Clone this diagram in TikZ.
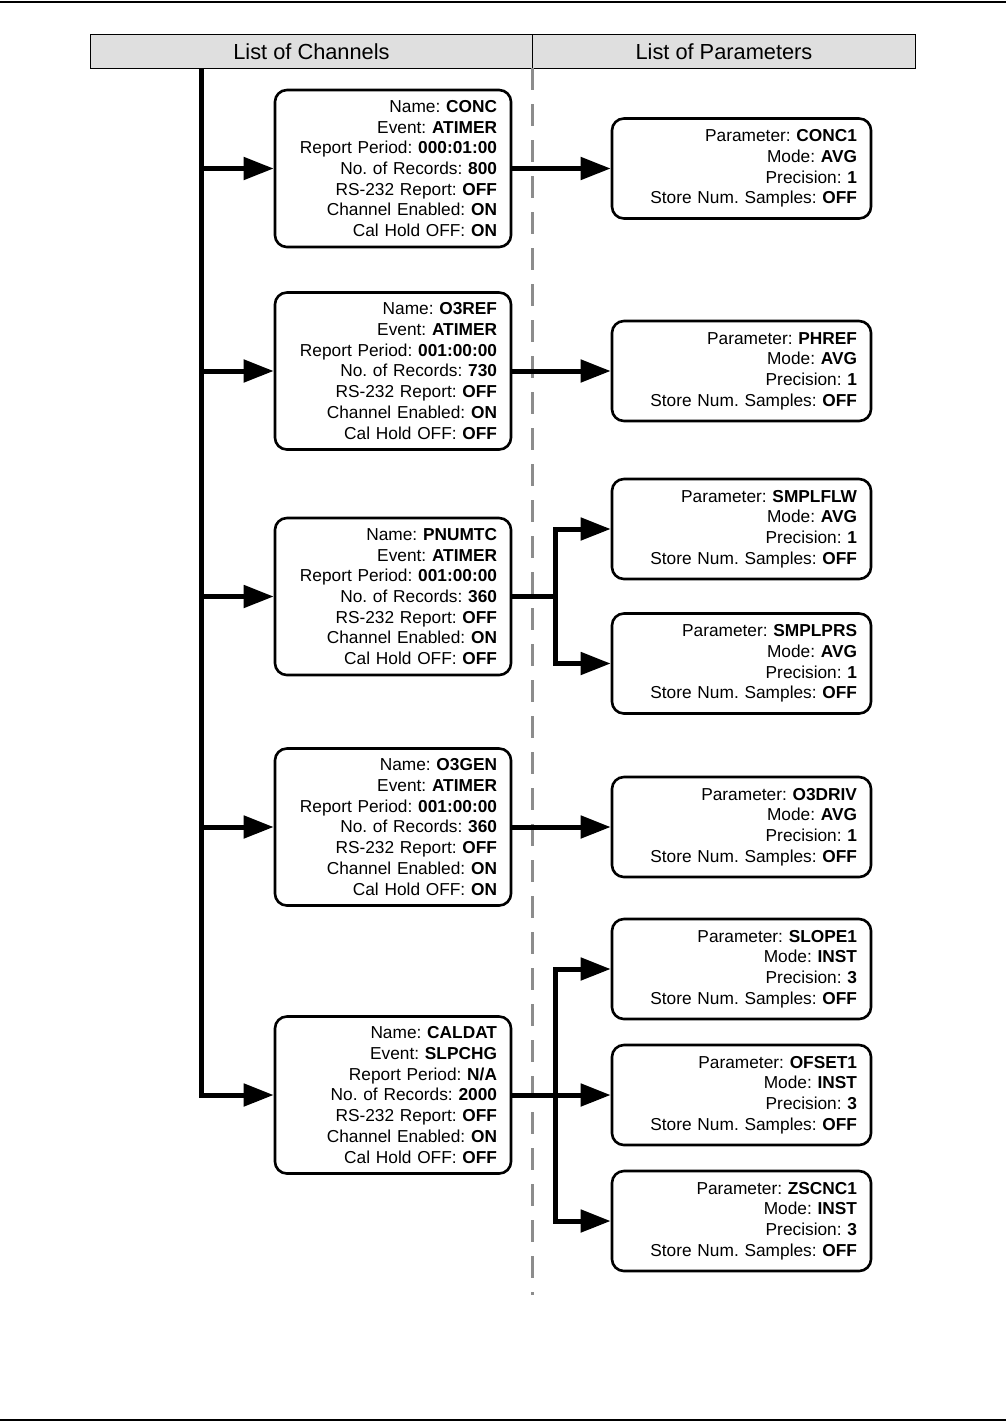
\documentclass[tikz,border=0pt]{standalone}
\usepackage{fontspec}
\setmainfont{Liberation Sans}
\frenchspacing
\usetikzlibrary{arrows.meta}
\tikzset{
  chanbox/.style={draw, line width=0.065cm, rounded corners=0.3cm, minimum height=3.925cm, text width=5.2cm, inner xsep=0.35cm, align=right, font=\fontsize{12.3}{14.74}\selectfont},
  parbox/.style={draw, line width=0.065cm, rounded corners=0.3cm, minimum height=2.5cm, text width=5.775cm, inner xsep=0.35cm, align=right, font=\fontsize{12.3}{14.74}\selectfont},
  hdr/.style={draw, fill=gray!25, line width=0.6pt, minimum height=0.85cm, anchor=north west, font=\fontsize{15.5}{18}\selectfont},
  flow/.style={line width=0.125cm},
  arr/.style={flow, -{Triangle[length=0.75cm,width=0.55cm]}},
  divider/.style={draw=black!45, line width=0.075cm, dash pattern=on 0.55cm off 0.35cm}
}
\begin{document}
\begin{tikzpicture}[x=0.025cm, y=-0.025cm]
            \useasboundingbox (0,0) rectangle (1006,1421);
            \draw[line width=0.05cm] (0,1.5) -- (1006,1.5);
            \draw[line width=0.05cm] (0,1419.5) -- (1006,1419.5);

            % headers
            \node[hdr, minimum width=11.05cm] (hchan) at (90,34) {List of Channels};
            \node[hdr, minimum width=9.575cm] (hpar) at (532,34) {List of Parameters};
            \draw[divider] (532,68) -- (532,1295);

            % channels
            \node[chanbox] (conc) at (393,168.5) {Name: \textbf{CONC}\\ Event: \textbf{ATIMER}\\ Report Period: \textbf{000:01:00}\\ No. of Records: \textbf{800}\\ RS-232 Report: \textbf{OFF}\\ Channel Enabled: \textbf{ON}\\ Cal Hold OFF: \textbf{ON}};
            \node[chanbox] (o3ref) at (393,371) {Name: \textbf{O3REF}\\ Event: \textbf{ATIMER}\\ Report Period: \textbf{001:00:00}\\ No. of Records: \textbf{730}\\ RS-232 Report: \textbf{OFF}\\ Channel Enabled: \textbf{ON}\\ Cal Hold OFF: \textbf{OFF}};
            \node[chanbox] (pnumtc) at (393,596.5) {Name: \textbf{PNUMTC}\\ Event: \textbf{ATIMER}\\ Report Period: \textbf{001:00:00}\\ No. of Records: \textbf{360}\\ RS-232 Report: \textbf{OFF}\\ Channel Enabled: \textbf{ON}\\ Cal Hold OFF: \textbf{OFF}};
            \node[chanbox] (o3gen) at (393,827) {Name: \textbf{O3GEN}\\ Event: \textbf{ATIMER}\\ Report Period: \textbf{001:00:00}\\ No. of Records: \textbf{360}\\ RS-232 Report: \textbf{OFF}\\ Channel Enabled: \textbf{ON}\\ Cal Hold OFF: \textbf{ON}};
            \node[chanbox] (caldat) at (393,1095) {Name: \textbf{CALDAT}\\ Event: \textbf{SLPCHG}\\ Report Period: \textbf{N/A}\\ No. of Records: \textbf{2000}\\ RS-232 Report: \textbf{OFF}\\ Channel Enabled: \textbf{ON}\\ Cal Hold OFF: \textbf{OFF}};

            % parameters
            \node[parbox] (conc1) at (741.5,168.5) {Parameter: \textbf{CONC1}\\ Mode: \textbf{AVG}\\ Precision: \textbf{1}\\ Store Num. Samples: \textbf{OFF}};
            \node[parbox] (phref) at (741.5,371) {Parameter: \textbf{PHREF}\\ Mode: \textbf{AVG}\\ Precision: \textbf{1}\\ Store Num. Samples: \textbf{OFF}};
            \node[parbox] (smplflw) at (741.5,529) {Parameter: \textbf{SMPLFLW}\\ Mode: \textbf{AVG}\\ Precision: \textbf{1}\\ Store Num. Samples: \textbf{OFF}};
            \node[parbox] (smplprs) at (741.5,663.5) {Parameter: \textbf{SMPLPRS}\\ Mode: \textbf{AVG}\\ Precision: \textbf{1}\\ Store Num. Samples: \textbf{OFF}};
            \node[parbox] (o3driv) at (741.5,827) {Parameter: \textbf{O3DRIV}\\ Mode: \textbf{AVG}\\ Precision: \textbf{1}\\ Store Num. Samples: \textbf{OFF}};
            \node[parbox] (slope1) at (741.5,969) {Parameter: \textbf{SLOPE1}\\ Mode: \textbf{INST}\\ Precision: \textbf{3}\\ Store Num. Samples: \textbf{OFF}};
            \node[parbox] (ofset1) at (741.5,1095) {Parameter: \textbf{OFSET1}\\ Mode: \textbf{INST}\\ Precision: \textbf{3}\\ Store Num. Samples: \textbf{OFF}};
            \node[parbox] (zscnc1) at (741.5,1221) {Parameter: \textbf{ZSCNC1}\\ Mode: \textbf{INST}\\ Precision: \textbf{3}\\ Store Num. Samples: \textbf{OFF}};

            % trunk to channels
            \coordinate (trunk) at (201,68);
            \foreach \ch in {conc, o3ref, pnumtc, o3gen, caldat}
                \draw[arr] (trunk) |- (\ch.west);

            % channels to parameters
            \draw[arr] (conc.east) -- (conc1.west);
            \draw[arr] (o3ref.east) -- (phref.west);
            \coordinate (fork3) at (555,596.5);
            \draw[flow] (pnumtc.east) -- (fork3);
            \draw[arr] (fork3) |- (smplflw.west);
            \draw[arr] (fork3) |- (smplprs.west);
            \draw[arr] (o3gen.east) -- (o3driv.west);
            \coordinate (fork5) at (555,1095);
            \draw[arr] (caldat.east) -- (ofset1.west);
            \draw[arr] (fork5) |- (slope1.west);
            \draw[arr] (fork5) |- (zscnc1.west);
        \end{tikzpicture}
\end{document}
